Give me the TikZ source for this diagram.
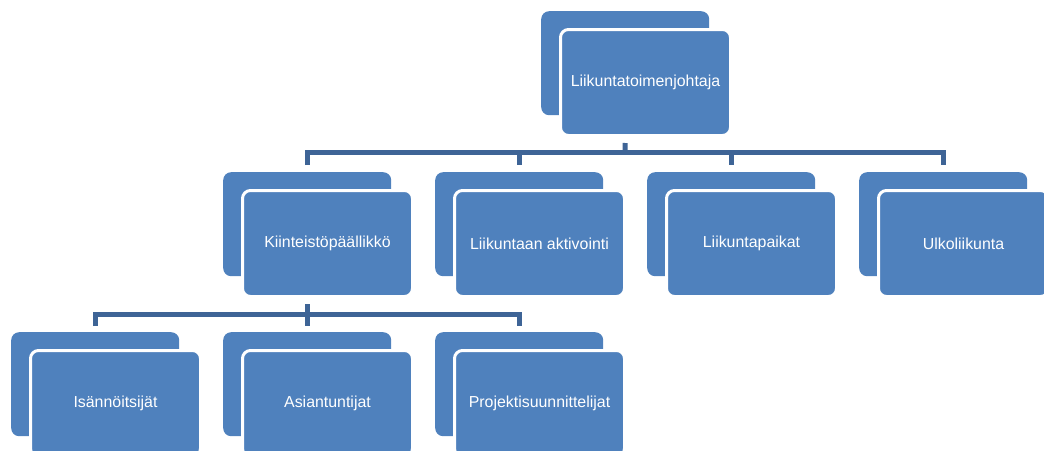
\documentclass[tikz,border=0pt]{standalone}
\usepackage{fontspec}
\setmainfont{Liberation Sans}
\usetikzlibrary{calc}
\definecolor{boxblue}{RGB}{79,129,189}
\definecolor{linkblue}{RGB}{62,100,150}
\begin{document}
\begin{tikzpicture}[x=1pt,y=-1pt,
  backbox/.style={fill=boxblue, rounded corners=8pt, minimum width=168pt, minimum height=104pt, inner sep=0pt, anchor=north west},
  frontbox/.style={fill=boxblue, draw=white, line width=3pt, rounded corners=8pt, minimum width=170pt, minimum height=106pt, inner sep=0pt, anchor=north west, text=white, font=\fontsize{15.9}{19}\selectfont},
  conn/.style={draw=linkblue, line width=5pt}]
\useasboundingbox (0,0) rectangle (1044,450);
\clip (0,0) rectangle (1044,450);
% top
\node[backbox] (tb) at (541,11) {};
\node[frontbox] (tf) at (559,28) {Liikuntatoimenjohtaja};
% level 2
\node[backbox] (ab) at (223,172) {};
\node[frontbox] (af) at (241,189) {Kiinteistöpäällikkö};
\node[backbox] (bb) at (435,172) {};
\node[frontbox] (bf) at (453,189) {Liikuntaan aktivointi};
\node[backbox] (cb) at (647,172) {};
\node[frontbox] (cf) at (665,189) {Liikuntapaikat};
\node[backbox] (db) at (859,172) {};
\node[frontbox] (df) at (877,189) {Ulkoliikunta};
% level 3
\node[backbox] (eb) at (11,332) {};
\node[frontbox] (ef) at (29,349) {Isännöitsijät};
\node[backbox] (fb) at (223,332) {};
\node[frontbox] (ff) at (241,349) {Asiantuntijat};
\node[backbox] (gb) at (435,332) {};
\node[frontbox] (gf) at (453,349) {Projektisuunnittelijat};
% connectors level 1 -> 2
\coordinate (bus1) at (625,152.5);
\draw[conn, shorten <=6pt] (tb.south |- tf.south) -- (bus1);
\draw[conn, shorten <=7pt, shorten >=7pt] (ab.north) |- (bus1) -| (db.north);
\draw[conn, shorten >=7pt] (bus1 -| bb.north) -- (bb.north);
\draw[conn, shorten >=7pt] (bus1 -| cb.north) -- (cb.north);
% connectors level 2 -> 3
\coordinate (bus2) at (307,314);
\draw[conn, shorten <=6pt, shorten >=6pt] (ab.south |- af.south) -- (fb.north);
\draw[conn, shorten <=6pt, shorten >=6pt] (eb.north) |- (bus2) -| (gb.north);
\end{tikzpicture}
\end{document}
